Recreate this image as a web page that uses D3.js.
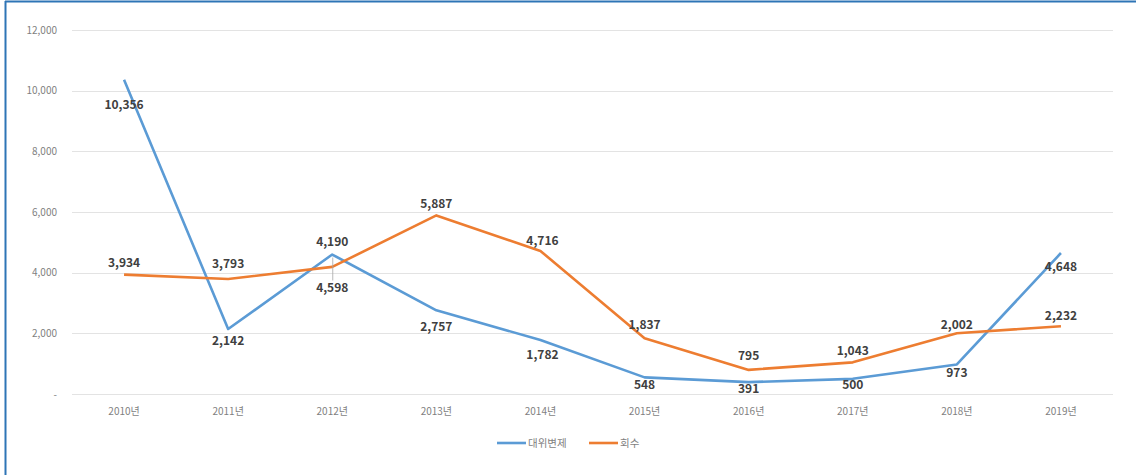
<!DOCTYPE html>
<html><head><meta charset="utf-8">
<script src="https://cdn.jsdelivr.net/npm/d3@7/dist/d3.min.js"></script>
<style>body{margin:0;background:#fff}svg{display:block}</style>
</head><body>
<svg id="c" width="1136" height="475"></svg>
<script>
const years = ["2010년","2011년","2012년","2013년","2014년","2015년","2016년","2017년","2018년","2019년"];
const subrogation = [10356,2142,4598,2757,1782,548,391,500,973,4648]; // 대위변제
const recovery = [3934,3793,4190,5887,4716,1837,795,1043,2002,2232]; // 회수
const yTicks = [0,2000,4000,6000,8000,10000,12000];
const seriesNames = ["대위변제","회수"];

const colors = ["#5B9BD5","#ED7D31"];
const svg = d3.select("#c");
const font = "'Noto Sans CJK KR','Noto Sans',sans-serif";

// frame
svg.append("line").attr("x1",5.5).attr("x2",5.5).attr("y1",1).attr("y2",475).attr("stroke","#2E75B6").attr("stroke-width",2);
svg.append("line").attr("x1",5).attr("x2",1136).attr("y1",1.5).attr("y2",1.5).attr("stroke","#2E75B6").attr("stroke-width",2);

const x = d3.scaleBand().domain(years).range([72,1113]);
const y = d3.scaleLinear().domain([0,12000]).range([394,30]);
const cx = d => x(d)+x.bandwidth()/2;

// grid
svg.append("g").selectAll("line").data(yTicks).join("line")
  .attr("x1",72).attr("x2",1113).attr("y1",d=>Math.round(y(d))+0.5).attr("y2",d=>Math.round(y(d))+0.5)
  .attr("stroke","#e3e3e3").attr("stroke-width",1);

const fmt = d3.format(",");
const yAxis = d3.axisLeft(y).tickValues(yTicks).tickSize(0).tickPadding(0).tickFormat(d=>d===0?"-":fmt(d));
svg.append("g").attr("transform","translate(57,0)").call(yAxis)
  .call(g=>g.select(".domain").remove())
  .call(g=>g.selectAll("text").attr("fill","#7f7f7f").attr("font-size",10).attr("font-family",font));

const xAxis = d3.axisBottom(x).tickSize(0).tickPadding(0);
svg.append("g").attr("transform","translate(0,411)").call(xAxis)
  .call(g=>g.select(".domain").remove())
  .call(g=>g.selectAll("text").attr("fill","#7f7f7f").attr("font-size",10).attr("font-family",font).attr("dy","0.35em"));

const line = d3.line().x((d,i)=>cx(years[i])).y(d=>y(d));
[subrogation,recovery].forEach((s,k)=>{
  svg.append("path").datum(s).attr("d",line).attr("fill","none")
    .attr("stroke",colors[k]).attr("stroke-width",2.6).attr("stroke-linejoin","round");
});

// label offsets (style: relative to points)
const blueOff = [[0,25],[0,12],[0,33],[0,16],[2,15],[0,7],[0,7],[0,6],[0,8],[0,14]];
const orangeOff = [[0,-12],[0,-15],[0,-25],[0,-12],[2,-10],[0,-13],[0,-14],[0,-12],[0,-8],[0,-10]];

function labels(s,off){
  svg.append("g").selectAll("text").data(s).join("text")
    .attr("x",(d,i)=>cx(years[i])+off[i][0]).attr("y",(d,i)=>y(d)+off[i][1])
    .attr("dy","0.35em").attr("text-anchor","middle")
    .attr("font-family",font).attr("font-size",12).attr("font-weight","bold").attr("fill","#404040")
    .text(d=>fmt(d));
}
// leader line for 2012
svg.append("line").attr("x1",cx(years[2])+0.5).attr("x2",cx(years[2])+0.5).attr("y1",y(subrogation[2])+3).attr("y2",y(subrogation[2])+26).attr("stroke","#a6a6a6").attr("stroke-width",0.8);

labels(subrogation,blueOff);
labels(recovery,orangeOff);

// legend
const lg = svg.append("g").attr("transform","translate(497,443)");
const items = [{n:seriesNames[0],c:colors[0],x:0},{n:seriesNames[1],c:colors[1],x:92}];
items.forEach(it=>{
  lg.append("line").attr("x1",it.x).attr("x2",it.x+29).attr("y1",0).attr("y2",0).attr("stroke",it.c).attr("stroke-width",2.6);
  lg.append("text").attr("x",it.x+31).attr("y",0).attr("dy","0.35em").attr("font-family",font).attr("font-size",10.5).attr("fill","#7f7f7f").text(it.n);
});
</script>
</body></html>
